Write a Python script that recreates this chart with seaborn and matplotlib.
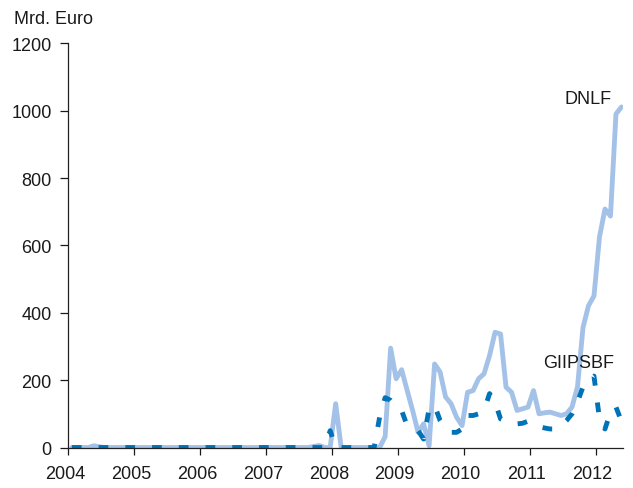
import numpy as np
import pandas as pd
import seaborn as sns
import matplotlib.pyplot as plt
import matplotlib.transforms as mtransforms

# monthly values, Jan 2004 .. May 2012 (Mrd. Euro)
dnlf = [
    0, 0, 0, 0, 5, 2, 0, 0, 0, 0, 0, 0,            # 2004
    0, 0, 0, 0, 0, 0, 0, 0, 0, 0, 0, 0,            # 2005
    0, 0, 0, 0, 0, 0, 0, 0, 0, 0, 0, 0,            # 2006
    0, 0, 0, 0, 0, 0, 0, 0, 3, 6, 0, 0,            # 2007
    130, 0, 0, 0, 0, 0, 0, 0, 0, 32, 295, 204,     # 2008
    231, 170, 110, 45, 70, 5, 248, 224, 150, 130, 90, 65,      # 2009
    164, 169, 204, 219, 273, 342, 337, 179, 164, 110, 115, 120,  # 2010
    169, 100, 103, 105, 100, 95, 100, 120, 180, 356, 421, 450,   # 2011
    625, 708, 687, 990, 1011,                      # 2012
]
giipsbf = [
    0, 0, 0, 0, 0, 0, 0, 0, 0, 0, 0, 0,
    0, 0, 0, 0, 0, 0, 0, 0, 0, 0, 0, 0,
    0, 0, 0, 0, 0, 0, 0, 0, 0, 0, 0, 0,
    0, 0, 0, 0, 0, 0, 0, 0, 0, 0, 0, 50,
    0, 0, 0, 0, 0, 0, 0, 0, 90, 148, 140, 120,
    110, 65, 58, 50, 25, 115, 125, 80, 55, 45, 45, 55,
    95, 95, 100, 110, 160, 135, 85, 78, 72, 70, 72, 78,
    68, 62, 58, 55, 55, 65, 80, 100, 135, 180, 200, 212,
    85, 55, 105, 120, 78,
]
years = list(range(2004, 2013))
yticks = [0, 200, 400, 600, 800, 1000, 1200]

month = np.arange(len(dnlf))
df = pd.DataFrame({
    "jahr": 2004 + (month + 0.7) / 12,
    "DNLF": dnlf,
    "GIIPSBF": giipsbf,
})

sns.set_style("ticks")
plt.rcParams["font.family"] = ["Liberation Sans", "DejaVu Sans"]
txt = "#1a1a1a"

fig = plt.figure(figsize=(6.33, 4.89), dpi=100)
ax = fig.add_axes([68 / 633, 40.5 / 489, 555 / 633, 404.2 / 489])

sns.lineplot(data=df, x="jahr", y="DNLF", ax=ax, color="#a4c2e8", lw=3.5)
sns.lineplot(data=df, x="jahr", y="GIIPSBF", ax=ax, color="#0072b8", lw=3.5,
             linestyle=(0, (2, 3.5)))

ax.set_xlim(2004, 2012.415)
ax.set_ylim(0, 1200)
ax.set_xticks(years)
ax.set_yticks(yticks)
ax.set_xlabel("")
ax.set_ylabel("")
sns.despine(ax=ax)
for s in ["left", "bottom"]:
    ax.spines[s].set_linewidth(0.9)
    ax.spines[s].set_color("#222222")
ax.tick_params(axis="y", length=5.8, width=0.9, pad=6, labelsize=13, colors=txt)
ax.tick_params(axis="x", length=4.8, width=0.9, pad=7.8, labelsize=13, colors=txt)

# year labels sit a little left of their ticks
shift = mtransforms.ScaledTranslation(-3 / 100, 0, fig.dpi_scale_trans)
for lab in ax.get_xticklabels():
    lab.set_transform(lab.get_transform() + shift)

ax.text(2012.25, 1035, "DNLF", ha="right", va="center", fontsize=13, color=txt)
ax.text(2012.28, 253, "GIIPSBF", ha="right", va="center", fontsize=13, color=txt)
fig.text(14 / 633, 1 - 19.5 / 489, "Mrd. Euro", ha="left", va="center",
         fontsize=13, color=txt)

fig.savefig("out.png", dpi=100)
plt.close(fig)
